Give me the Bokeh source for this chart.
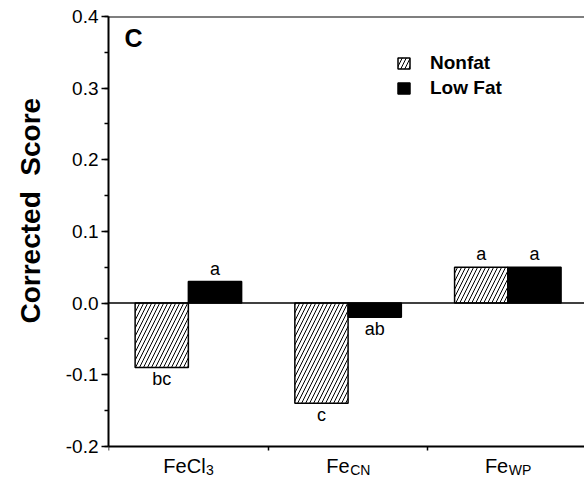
from bokeh.plotting import figure
from bokeh.models import (Range1d, Span, Legend, LegendItem, FixedTicker, Title,
                          SingleIntervalTicker, NumeralTickFormatter, ColumnDataSource)
from bokeh.core.properties import value
from bokeh.embed import file_html
from bokeh.resources import INLINE

# ---- data ----
categories = ["FeCl3", "FeCN", "FeWP"]
label_main = ["FeCl", "Fe", "Fe"]
label_sub = ["3", "CN", "WP"]
series = ["Nonfat", "Low Fat"]
nonfat = [-0.09, -0.14, 0.05]
lowfat = [0.03, -0.02, 0.05]
nonfat_letters = ["bc", "c", "a"]
lowfat_letters = ["a", "ab", "a"]
panel_letter = "C"
y_title = "Corrected\u00a0\u00a0Score"
y_min, y_max = -0.2, 0.4

FONT = "Liberation Sans"

# approximate Arial advance widths (em) for centering composite labels
ADV = {"F": .611, "e": .556, "C": .722, "l": .222, "3": .556, "N": .722,
       "W": .944, "P": .667}


def tw(s, size):
    return sum(ADV.get(c, .556) for c in s) * size


n = len(categories)
centers = [i + 0.5 for i in range(n)]
bw = 1.0 / 3.0

# y range extends a little below the axis so the category labels sit inside the frame
p = figure(width=584, height=483, x_range=Range1d(0, 2.98), y_range=Range1d(-0.245, y_max),
           output_backend="svg", toolbar_location=None,
           min_border_left=107, min_border_right=0, min_border_top=16, min_border_bottom=5)
p.grid.visible = False
p.outline_line_color = None
p.background_fill_color = "white"
p.border_fill_color = "white"

# y axis
ya = p.yaxis[0]
ya.bounds = (y_min, y_max)
ya.ticker = SingleIntervalTicker(interval=0.1, num_minor_ticks=2)
ya.formatter = NumeralTickFormatter(format="0.0")
ya.axis_line_width = 2
ya.major_tick_line_width = 1.5
ya.minor_tick_line_width = 1.5
ya.major_tick_out = 7
ya.major_tick_in = 0
ya.minor_tick_out = 4
ya.minor_tick_in = 0
ya.major_label_standoff = 3
ya.major_label_text_font = FONT
ya.major_label_text_font_size = "19px"
ya.major_label_text_color = "black"

# x axis (group boundaries) drawn at y = -0.2
xa = p.xaxis[0]
xa.fixed_location = y_min
xa.ticker = FixedTicker(ticks=[0, 1, 2, 3])
xa.major_label_overrides = {0: "", 1: "", 2: "", 3: ""}
xa.major_label_text_font_size = "1px"
xa.major_label_standoff = 0
xa.axis_line_width = 2
xa.major_tick_line_width = 1.5
xa.major_tick_out = 4
xa.major_tick_in = 0
xa.minor_tick_line_color = None

# y title
p.add_layout(Title(text=y_title, align="left", offset=155, standoff=29,
                   vertical_align="top",
                   text_font=FONT, text_font_size="28px", text_font_style="bold",
                   text_color="black"), "left")

# top line
p.add_layout(Span(location=y_max, dimension="width", line_color="black", line_width=2))

# bars
x_nf = [c - bw / 2 for c in centers]
x_lf = [c + bw / 2 for c in centers]
r_nf = p.vbar(x=x_nf, width=bw, top=nonfat, bottom=0, fill_color="white",
              line_color="black", line_width=1.5, hatch_pattern="/",
              hatch_color="black", hatch_scale=8, hatch_weight=1)
r_lf = p.vbar(x=x_lf, width=bw, top=lowfat, bottom=0, fill_color="black",
              line_color="black", line_width=1.5)

p.add_layout(Span(location=0, dimension="width", line_color="black", line_width=1.5))

# significance letters
xs = x_nf + x_lf
vals = nonfat + lowfat
lets = nonfat_letters + lowfat_letters
pos = ColumnDataSource(dict(x=[x for x, v in zip(xs, vals) if v >= 0],
                            y=[v for v in vals if v >= 0],
                            t=[t for t, v in zip(lets, vals) if v >= 0]))
neg = ColumnDataSource(dict(x=[x for x, v in zip(xs, vals) if v < 0],
                            y=[v for v in vals if v < 0],
                            t=[t for t, v in zip(lets, vals) if v < 0]))
p.text(x="x", y="y", text="t", source=pos, text_font=value(FONT), text_font_size="18px",
       text_align="center", text_baseline="alphabetic", y_offset=-13, text_color="black")
p.text(x="x", y="y", text="t", source=neg, text_font=value(FONT), text_font_size="18px",
       text_align="center", text_baseline="top", y_offset=2, text_color="black")

# category labels with subscripts
MAIN_SZ, SUB_SZ = 20, 14
wm = [tw(m, MAIN_SZ) for m in label_main]
ws = [tw(s, SUB_SZ) for s in label_sub]
off_main = [-(a + b) / 2 for a, b in zip(wm, ws)]
off_sub = [o + a + 0.5 for o, a in zip(off_main, wm)]
cat_src = ColumnDataSource(dict(x=centers, y=[y_min] * n, main=label_main, sub=label_sub,
                                om=off_main, os=off_sub))
p.text(x="x", y="y", text="main", source=cat_src, x_offset="om", y_offset=20,
       text_font=value(FONT), text_font_size=f"{MAIN_SZ}px", text_align="left",
       text_baseline="alphabetic", text_color="black")
p.text(x="x", y="y", text="sub", source=cat_src, x_offset="os", y_offset=24,
       text_font=value(FONT), text_font_size=f"{SUB_SZ}px", text_align="left",
       text_baseline="alphabetic", text_color="black")

# panel letter
p.text(x=[0.1], y=[y_max], text=[panel_letter], y_offset=7, text_font=value(FONT),
       text_font_size="25px", text_font_style="bold", text_align="left",
       text_baseline="top", text_color="black")

# legend
legend = Legend(items=[LegendItem(label=series[0], renderers=[r_nf]),
                       LegendItem(label=series[1], renderers=[r_lf])],
                location=(288, 379), glyph_width=15, glyph_height=14, label_standoff=19,
                label_text_font=FONT, label_text_font_size="19px", label_text_color="black",
                label_text_font_style="bold", label_height=20, spacing=3,
                padding=0, margin=0, border_line_color=None, background_fill_alpha=0)
p.add_layout(legend)

open("out.html", "w").write(file_html(p, INLINE))
